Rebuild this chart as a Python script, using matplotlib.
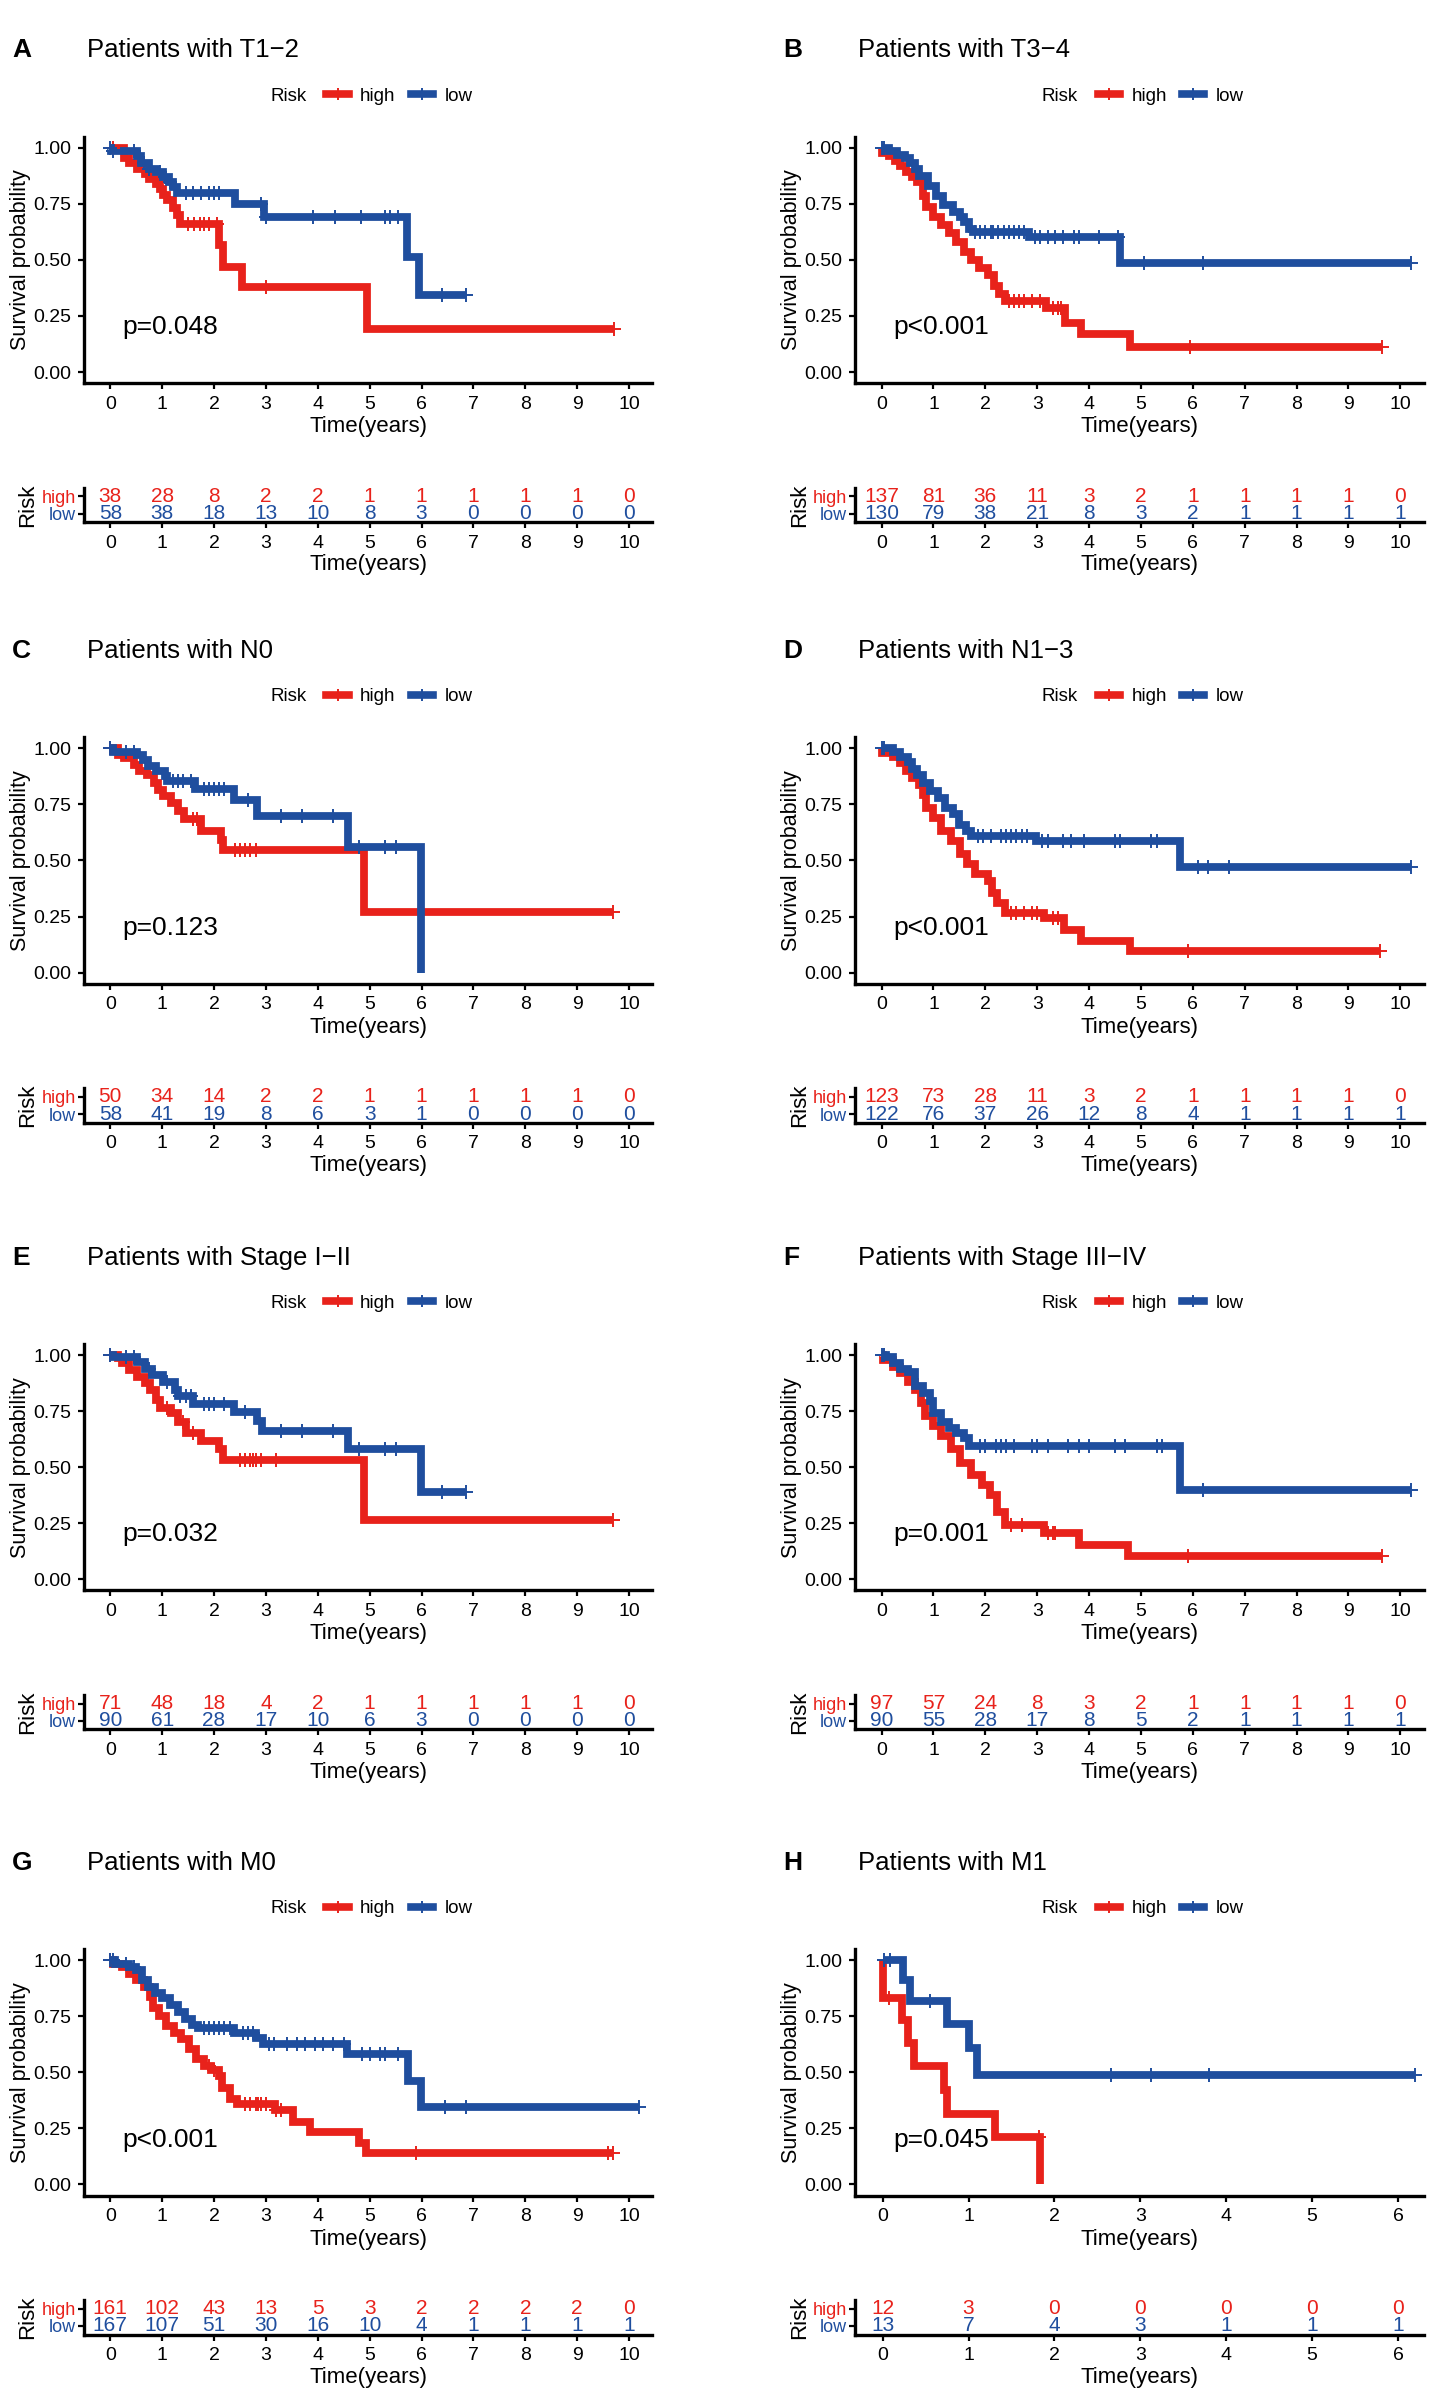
import numpy as np
import matplotlib.pyplot as plt
from matplotlib.lines import Line2D
import matplotlib.transforms as mtransforms

plt.rcParams['font.family'] = ['Liberation Sans', 'DejaVu Sans']

RED = '#E8221B'
BLUE = '#1F4E9E'

# ---------------- data ----------------
letters = ['A', 'B', 'C', 'D', 'E', 'F', 'G', 'H']
titles = ['Patients with T1\u22122', 'Patients with T3\u22124',
          'Patients with N0', 'Patients with N1\u22123',
          'Patients with Stage I\u2212II', 'Patients with Stage III\u2212IV',
          'Patients with M0', 'Patients with M1']
pvals = ['p=0.048', 'p<0.001', 'p=0.123', 'p<0.001',
         'p=0.032', 'p=0.001', 'p<0.001', 'p=0.045']

# A: T1-2
A_high_t = [0, 0.27, 0.37, 0.52, 0.66, 0.74, 0.88, 0.95, 1.02, 1.1, 1.2, 1.28, 1.35, 2.1, 2.18, 2.54, 4.95]
A_high_s = [1.0, 0.956, 0.934, 0.905, 0.883, 0.86, 0.84, 0.817, 0.79, 0.766, 0.73, 0.70, 0.66, 0.566, 0.47, 0.38, 0.19]
A_high_c = [0.05, 1.5, 1.62, 1.72, 1.8, 1.9, 2.05, 3.0, 9.71]
A_low_t = [0, 0.02, 0.52, 0.6, 0.74, 0.88, 1.02, 1.13, 1.2, 1.28, 2.4, 2.97, 5.71, 5.96]
A_low_s = [1.0, 0.985, 0.963, 0.934, 0.905, 0.89, 0.868, 0.846, 0.825, 0.80, 0.75, 0.69, 0.515, 0.345]
A_low_c = [0.0, 0.05, 0.45, 0.65, 0.75, 0.95, 1.05, 1.15, 1.45, 1.6, 1.75, 1.9, 2.0, 2.1, 2.9, 3.0,
           3.9, 4.33, 4.83, 5.3, 5.4, 5.55, 6.4, 6.86]

# B: T3-4
B_high_t = [0, 0.01, 0.14, 0.25, 0.36, 0.47, 0.58, 0.68, 0.79, 0.86, 1.0, 1.15, 1.29, 1.44, 1.58, 1.73,
            1.87, 2.05, 2.16, 2.27, 2.37, 3.17, 3.53, 3.85, 4.78]
B_high_s = [1.0, 0.978, 0.963, 0.94, 0.92, 0.89, 0.868, 0.846, 0.787, 0.735, 0.69, 0.654, 0.618, 0.58,
            0.537, 0.50, 0.463, 0.434, 0.382, 0.346, 0.316, 0.287, 0.22, 0.17, 0.11]
B_high_c = [2.45, 2.55, 2.65, 2.75, 2.9, 3.05, 3.3, 3.4, 3.45, 5.95, 9.64]
B_low_t = [0, 0.15, 0.3, 0.45, 0.55, 0.65, 0.72, 0.9, 1.04, 1.19, 1.37, 1.51, 1.58, 1.69, 1.76, 2.84, 4.6]
B_low_s = [1.0, 0.985, 0.97, 0.955, 0.93, 0.905, 0.875, 0.83, 0.787, 0.743, 0.713, 0.69, 0.67, 0.64,
           0.625, 0.603, 0.485]
B_low_c = [0.0, 0.05, 1.8, 1.9, 2.0, 2.1, 2.15, 2.25, 2.35, 2.45, 2.55, 2.65, 2.75, 2.95, 3.05, 3.2,
           3.35, 3.5, 3.7, 3.8, 4.2, 4.55, 5.05, 6.2, 10.2]

# C: N0
C_high_t = [0, 0.15, 0.27, 0.45, 0.55, 0.7, 0.84, 0.91, 1.02, 1.17, 1.3, 1.42, 1.74, 2.14, 2.17, 4.9]
C_high_s = [1.0, 0.97, 0.956, 0.926, 0.90, 0.88, 0.845, 0.815, 0.787, 0.757, 0.72, 0.684, 0.63, 0.59,
            0.545, 0.272]
C_high_c = [0.0, 1.6, 1.68, 2.4, 2.5, 2.6, 2.7, 2.8, 9.7]
C_low_t = [0, 0.05, 0.52, 0.63, 0.73, 0.88, 1.06, 1.1, 1.63, 2.39, 2.82, 4.58, 5.98]
C_low_s = [1.0, 0.985, 0.97, 0.95, 0.92, 0.90, 0.876, 0.853, 0.82, 0.77, 0.70, 0.56, 0.0]
C_low_c = [0.0, 0.3, 0.45, 1.2, 1.3, 1.4, 1.55, 1.8, 1.9, 2.0, 2.1, 2.2, 2.65, 3.3, 3.7, 4.3, 4.8,
           5.3, 5.5]

# D: N1-3
D_high_t = [0, 0.01, 0.22, 0.36, 0.47, 0.58, 0.72, 0.79, 0.86, 1.0, 1.15, 1.33, 1.51, 1.65, 1.8, 2.05,
            2.12, 2.23, 2.37, 3.13, 3.52, 3.85, 4.78]
D_high_s = [1.0, 0.978, 0.963, 0.934, 0.897, 0.868, 0.838, 0.794, 0.735, 0.69, 0.632, 0.588, 0.53,
            0.485, 0.44, 0.41, 0.353, 0.309, 0.265, 0.243, 0.19, 0.14, 0.096]
D_high_c = [2.5, 2.6, 2.75, 2.9, 3.0, 3.3, 3.4, 5.9, 9.6]
D_low_t = [0, 0.22, 0.36, 0.5, 0.58, 0.68, 0.79, 0.94, 1.08, 1.22, 1.37, 1.5, 1.62, 1.73, 2.98, 5.75]
D_low_s = [1.0, 0.985, 0.963, 0.94, 0.91, 0.88, 0.846, 0.81, 0.78, 0.735, 0.706, 0.66, 0.63, 0.61,
           0.588, 0.47]
D_low_c = [0.0, 0.05, 1.85, 1.95, 2.1, 2.3, 2.4, 2.5, 2.6, 2.7, 2.8, 3.1, 3.2, 3.5, 3.65, 3.9, 4.5,
           4.6, 5.2, 5.3, 6.1, 6.3, 6.7, 10.2]

# E: Stage I-II
E_high_t = [0, 0.15, 0.23, 0.37, 0.52, 0.66, 0.77, 0.88, 0.95, 1.17, 1.31, 1.45, 1.74, 2.1, 2.17, 4.9]
E_high_s = [1.0, 0.985, 0.963, 0.934, 0.904, 0.875, 0.846, 0.80, 0.765, 0.743, 0.70, 0.654, 0.618,
            0.58, 0.53, 0.265]
E_high_c = [0.0, 1.1, 1.4, 1.6, 2.5, 2.6, 2.7, 2.75, 2.8, 2.9, 3.2, 9.7]
E_low_t = [0, 0.05, 0.52, 0.66, 0.8, 1.02, 1.24, 1.31, 1.6, 2.39, 2.82, 2.93, 4.58, 5.98]
E_low_s = [1.0, 0.99, 0.97, 0.94, 0.91, 0.88, 0.846, 0.816, 0.78, 0.746, 0.706, 0.66, 0.58, 0.39]
E_low_c = [0.0, 0.3, 0.45, 0.75, 1.1, 1.35, 1.45, 1.55, 1.8, 1.9, 2.0, 2.2, 2.6, 3.3, 3.7, 4.3, 4.8,
           5.3, 5.5, 6.4, 6.85]

# F: Stage III-IV
F_high_t = [0, 0.02, 0.22, 0.36, 0.5, 0.65, 0.76, 0.83, 1.0, 1.15, 1.33, 1.51, 1.73, 1.94, 2.09, 2.23,
            2.37, 3.13, 3.81, 4.75]
F_high_s = [1.0, 0.978, 0.949, 0.92, 0.882, 0.846, 0.787, 0.728, 0.684, 0.64, 0.58, 0.52, 0.463, 0.419,
            0.375, 0.30, 0.243, 0.206, 0.154, 0.103]
F_high_c = [2.5, 2.7, 3.2, 3.3, 3.35, 5.9, 9.65]
F_low_t = [0, 0.08, 0.22, 0.36, 0.5, 0.65, 0.79, 0.94, 1.0, 1.15, 1.3, 1.44, 1.58, 1.69, 5.75]
F_low_s = [1.0, 0.99, 0.963, 0.94, 0.926, 0.86, 0.83, 0.794, 0.743, 0.70, 0.676, 0.654, 0.632, 0.596,
           0.397]
F_low_c = [0.0, 0.05, 1.9, 2.0, 2.2, 2.3, 2.4, 2.55, 2.9, 3.0, 3.2, 3.6, 3.8, 4.0, 4.5, 4.7, 5.3, 5.4,
           6.2, 10.2]

# G: M0
G_high_t = [0, 0.05, 0.22, 0.36, 0.5, 0.65, 0.76, 0.83, 0.94, 1.08, 1.22, 1.37, 1.51, 1.66, 1.8, 1.95,
            2.09, 2.16, 2.3, 2.45, 3.17, 3.53, 3.85, 4.79, 4.93]
G_high_s = [1.0, 0.985, 0.97, 0.94, 0.91, 0.88, 0.838, 0.787, 0.75, 0.706, 0.676, 0.647, 0.603, 0.56,
            0.53, 0.51, 0.485, 0.43, 0.38, 0.36, 0.33, 0.28, 0.235, 0.184, 0.14]
G_high_c = [0.0, 1.9, 2.0, 2.6, 2.7, 2.8, 2.85, 2.9, 3.0, 3.2, 3.3, 5.9, 9.6, 9.7]
G_low_t = [0, 0.1, 0.36, 0.5, 0.61, 0.72, 0.86, 1.0, 1.15, 1.3, 1.44, 1.58, 1.69, 2.38, 2.81, 2.95, 4.57,
           5.73, 5.98]
G_low_s = [1.0, 0.985, 0.97, 0.956, 0.91, 0.88, 0.853, 0.83, 0.80, 0.77, 0.74, 0.713, 0.698, 0.676,
           0.654, 0.625, 0.58, 0.463, 0.345]
G_low_c = [0.0, 0.05, 0.3, 0.45, 1.8, 1.9, 2.0, 2.1, 2.2, 2.3, 2.55, 2.65, 2.75, 3.05, 3.15, 3.4, 3.6,
           3.75, 3.95, 4.1, 4.3, 4.5, 4.85, 5.0, 5.2, 5.3, 5.55, 6.45, 6.85, 10.2]

# H: M1
H_high_t = [0, 0.01, 0.22, 0.3, 0.37, 0.72, 0.75, 1.31, 1.83]
H_high_s = [1.0, 0.833, 0.735, 0.63, 0.53, 0.42, 0.316, 0.21, 0.0]
H_high_c = [0.07, 1.82]
H_low_t = [0, 0.24, 0.32, 0.75, 1.01, 1.1]
H_low_s = [1.0, 0.91, 0.816, 0.714, 0.61, 0.49]
H_low_c = [0.02, 0.09, 0.55, 2.66, 3.12, 3.8, 6.2]

# numbers at risk
risk_times_10 = list(range(0, 11))
risk_times_6 = list(range(0, 7))
A_risk_high = [38, 28, 8, 2, 2, 1, 1, 1, 1, 1, 0]
A_risk_low = [58, 38, 18, 13, 10, 8, 3, 0, 0, 0, 0]
B_risk_high = [137, 81, 36, 11, 3, 2, 1, 1, 1, 1, 0]
B_risk_low = [130, 79, 38, 21, 8, 3, 2, 1, 1, 1, 1]
C_risk_high = [50, 34, 14, 2, 2, 1, 1, 1, 1, 1, 0]
C_risk_low = [58, 41, 19, 8, 6, 3, 1, 0, 0, 0, 0]
D_risk_high = [123, 73, 28, 11, 3, 2, 1, 1, 1, 1, 0]
D_risk_low = [122, 76, 37, 26, 12, 8, 4, 1, 1, 1, 1]
E_risk_high = [71, 48, 18, 4, 2, 1, 1, 1, 1, 1, 0]
E_risk_low = [90, 61, 28, 17, 10, 6, 3, 0, 0, 0, 0]
F_risk_high = [97, 57, 24, 8, 3, 2, 1, 1, 1, 1, 0]
F_risk_low = [90, 55, 28, 17, 8, 5, 2, 1, 1, 1, 1]
G_risk_high = [161, 102, 43, 13, 5, 3, 2, 2, 2, 2, 0]
G_risk_low = [167, 107, 51, 30, 16, 10, 4, 1, 1, 1, 1]
H_risk_high = [12, 3, 0, 0, 0, 0, 0]
H_risk_low = [13, 7, 4, 3, 1, 1, 1]

panels = [
    (A_high_t, A_high_s, A_high_c, A_low_t, A_low_s, A_low_c, risk_times_10, A_risk_high, A_risk_low),
    (B_high_t, B_high_s, B_high_c, B_low_t, B_low_s, B_low_c, risk_times_10, B_risk_high, B_risk_low),
    (C_high_t, C_high_s, C_high_c, C_low_t, C_low_s, C_low_c, risk_times_10, C_risk_high, C_risk_low),
    (D_high_t, D_high_s, D_high_c, D_low_t, D_low_s, D_low_c, risk_times_10, D_risk_high, D_risk_low),
    (E_high_t, E_high_s, E_high_c, E_low_t, E_low_s, E_low_c, risk_times_10, E_risk_high, E_risk_low),
    (F_high_t, F_high_s, F_high_c, F_low_t, F_low_s, F_low_c, risk_times_10, F_risk_high, F_risk_low),
    (G_high_t, G_high_s, G_high_c, G_low_t, G_low_s, G_low_c, risk_times_10, G_risk_high, G_risk_low),
    (H_high_t, H_high_s, H_high_c, H_low_t, H_low_s, H_low_c, risk_times_6, H_risk_high, H_risk_low),
]

# ---------------- layout ----------------
W, H = 946.0, 1579.7          # layout grid (reference at reduced scale)
col_dx = [0, 506]
row_dy = [0, 394, 792, 1189]


def fx(x):
    return x / W


def fy(y):
    return 1 - y / H


def surv_at(t, s, x):
    idx = np.searchsorted(np.asarray(t), np.asarray(x), side='right') - 1
    return np.asarray(s)[idx]


def draw_curve(ax, t, s, cens, color):
    end = max(max(cens), t[-1])
    tt = list(t) + [end]
    ss = list(s) + [s[-1]]
    ax.step(tt, ss, where='post', color=color, lw=5.6,
            solid_capstyle='butt', solid_joinstyle='miter', zorder=3)
    ax.plot(cens, surv_at(t, s, cens), ls='none', marker='+', ms=9.5, mew=1.4,
            color=color, zorder=4)


def style_axis(ax):
    for side in ['top', 'right']:
        ax.spines[side].set_visible(False)
    for side in ['left', 'bottom']:
        ax.spines[side].set_linewidth(2.4)
    ax.tick_params(axis='both', length=4, width=1.6, labelsize=14, pad=5, colors='black')


fig = plt.figure(figsize=(14.42, 24.08), dpi=100)

for i, (ht, hs, hc, lt, ls_, lc, rt, rh, rl) in enumerate(panels):
    r, c = divmod(i, 2)
    dx, dy = col_dx[c], row_dy[r]
    xmax = rt[-1]
    xlim = (-0.05 * xmax - 0.01, xmax * 1.045) if xmax == 10 else (-0.32, 6.3)

    fig.text(fx(8 + dx), fy(33 + dy), letters[i], fontsize=19, fontweight='bold',
             va='center', ha='left')
    fig.text(fx(57 + dx), fy(33 + dy), titles[i], fontsize=18.5, va='center', ha='left')

    # survival curves
    ax = fig.add_axes([fx(55 + dx), fy(251.4 + dy), 373 / W, 161.8 / H])
    style_axis(ax)
    draw_curve(ax, ht, hs, hc, RED)
    draw_curve(ax, lt, ls_, lc, BLUE)
    ax.set_xlim(*xlim)
    ax.set_ylim(-0.05, 1.05)
    ax.set_xticks(rt)
    ax.set_yticks([0, 0.25, 0.5, 0.75, 1.0])
    ax.set_yticklabels(['0.00', '0.25', '0.50', '0.75', '1.00'])
    ax.set_xlabel('Time(years)', fontsize=16, labelpad=2.5)
    ax.set_ylabel('Survival probability', fontsize=15.5, labelpad=2)
    trans = mtransforms.blended_transform_factory(ax.transAxes, ax.transData)
    ax.text(0.067, 0.2, pvals[i], transform=trans, fontsize=19, va='center', ha='left')

    handles = [Line2D([], [], color=RED, lw=5.5, marker='+', ms=8, mew=1.4),
               Line2D([], [], color=BLUE, lw=5.5, marker='+', ms=8, mew=1.4)]
    ax.legend(handles, ['high', 'low'], loc='center', bbox_to_anchor=(0.555, 1.164),
              ncol=2, frameon=False, fontsize=13.5, handlelength=1.2, handletextpad=0.6,
              columnspacing=0.8, borderpad=0.2)
    ax.text(0.392, 1.164, 'Risk', transform=ax.transAxes, fontsize=13.5,
            ha='right', va='center')

    # risk table
    rax = fig.add_axes([fx(55 + dx), fy(342.5 + dy), 373 / W, 22.5 / H])
    style_axis(rax)
    rax.set_xlim(*xlim)
    rax.set_ylim(-0.5, 1.5)
    for tx, n in zip(rt, rh):
        rax.text(tx, 1, str(n), color=RED, fontsize=15, ha='center', va='center')
    for tx, n in zip(rt, rl):
        rax.text(tx, 0, str(n), color=BLUE, fontsize=15, ha='center', va='center')
    rax.set_xticks(rt)
    rax.set_yticks([0, 1])
    rax.set_yticklabels(['low', 'high'])
    rax.get_yticklabels()[0].set_color(BLUE)
    rax.get_yticklabels()[1].set_color(RED)
    rax.tick_params(axis='y', labelsize=13, pad=2)
    rax.set_xlabel('Time(years)', fontsize=16, labelpad=2)
    rax.set_ylabel('Risk', fontsize=16, labelpad=2)

fig.savefig('out.png', dpi=100)
